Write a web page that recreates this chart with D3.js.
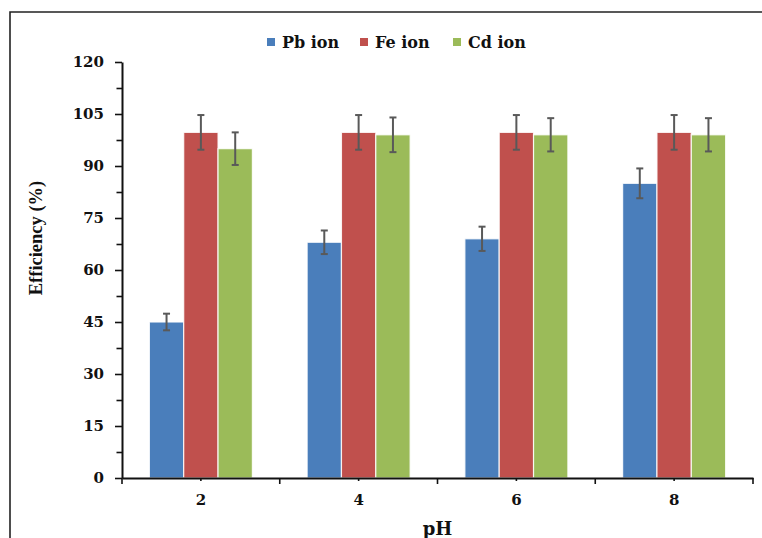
<!DOCTYPE html>
<html>
<head>
<meta charset="utf-8">
<script src="https://cdn.jsdelivr.net/npm/d3@7"></script>
<style>
    body { margin: 0; background: #ffffff; }
    svg { display: block; }
</style>
</head>
<body>
<div id="canvas"></div>
<script>
"use strict"

/* Chart data: removal efficiency by pH for three ions */
let categories = ["2", "4", "6", "8"];
let seriesNames = ["Pb ion", "Fe ion", "Cd ion"];
let pbValues = [45, 68, 69, 85];
let feValues = [99.7, 99.7, 99.7, 99.7];
let cdValues = [95, 99, 99, 99];
let pbErrors = [2.4, 3.4, 3.5, 4.3];
let feErrors = [5, 5, 5, 5];
let cdErrors = [4.7, 5, 4.8, 4.8];
let yTicks = [0, 15, 30, 45, 60, 75, 90, 105, 120];
let colors = ["#4a7ebb", "#c0504d", "#9bbb59"];

/* Global Variables */
let svgWidth = 762;
let svgHeight = 538;

let plot = {
    left: 122,
    right: 753,
    top: 62,
    bottom: 478
};

let svg;

(function() {
    svg = d3.select("#canvas")
        .append("svg")
        .attr("width", svgWidth)
        .attr("height", svgHeight);

    // cropped outer frame (only top and left edges visible)
    svg.append("path")
        .attr("d", "M10," + svgHeight + " L10,12 L" + svgWidth + ",12")
        .attr("fill", "none")
        .attr("stroke", "#222")
        .attr("stroke-width", 1.6);

    drawChart();
})();

function drawChart() {
    let allValues = [pbValues, feValues, cdValues];
    let allErrors = [pbErrors, feErrors, cdErrors];

    // one row per bar
    let rows = [];
    for (let i = 0; i < categories.length; i++) {
        for (let s = 0; s < seriesNames.length; s++) {
            rows.push({
                cat: categories[i],
                series: seriesNames[s],
                value: allValues[s][i],
                err: allErrors[s][i],
                color: colors[s]
            });
        }
    }

    // Scales
    let xScale = d3.scaleBand()
        .domain(categories)
        .range([plot.left, plot.right]);

    let groupWidth = 103;
    let bw = xScale.bandwidth();
    let xInner = d3.scaleBand()
        .domain(seriesNames)
        .range([(bw - groupWidth) / 2, (bw + groupWidth) / 2]);

    let yScale = d3.scaleLinear()
        .domain([0, 120])
        .range([plot.bottom, plot.top]);

    // Bars
    svg.selectAll("rect.bar")
        .data(rows)
        .join("rect")
        .classed("bar", true)
        .attr("x", function(d) { return xScale(d.cat) + xInner(d.series); })
        .attr("y", function(d) { return yScale(d.value); })
        .attr("width", xInner.bandwidth())
        .attr("height", function(d) { return yScale(0) - yScale(d.value); })
        .attr("fill", function(d) { return d.color; })
        .attr("stroke", "#ffffff")
        .attr("stroke-opacity", 0.85)
        .attr("stroke-width", 1.2);

    // Error bars
    let errG = svg.append("g")
        .attr("stroke", "#595959")
        .attr("stroke-width", 2);

    let errs = errG.selectAll("g")
        .data(rows)
        .join("g")
        .attr("transform", function(d) {
            return "translate(" + (xScale(d.cat) + xInner(d.series) + xInner.bandwidth() / 2) + ",0)";
        });

    errs.append("line")
        .attr("y1", function(d) { return yScale(d.value + d.err); })
        .attr("y2", function(d) { return yScale(d.value - d.err); });
    errs.append("line")
        .attr("x1", -3.5).attr("x2", 3.5)
        .attr("y1", function(d) { return yScale(d.value + d.err); })
        .attr("y2", function(d) { return yScale(d.value + d.err); });
    errs.append("line")
        .attr("x1", -3.5).attr("x2", 3.5)
        .attr("y1", function(d) { return yScale(d.value - d.err); })
        .attr("y2", function(d) { return yScale(d.value - d.err); });

    // Y axis with minor ticks between labels
    let minorTicks = [];
    for (let i = 0; i < yTicks.length - 1; i++) {
        minorTicks.push((yTicks[i] + yTicks[i + 1]) / 2);
    }
    svg.append("g")
        .attr("transform", "translate(" + plot.left + ",0)")
        .call(d3.axisLeft(yScale).tickValues(minorTicks).tickSize(5.5).tickFormat(""))
        .call(function(g) { g.select(".domain").remove(); })
        .selectAll("line").attr("stroke", "#111").attr("stroke-width", 1.6);

    let yAxis = svg.append("g")
        .attr("transform", "translate(" + plot.left + ",0)")
        .call(d3.axisLeft(yScale).tickValues(yTicks).tickSize(7).tickSizeOuter(0).tickPadding(11));
    yAxis.select(".domain").attr("stroke", "#111").attr("stroke-width", 2);
    yAxis.selectAll("line").attr("stroke", "#111").attr("stroke-width", 1.6);
    yAxis.selectAll("text")
        .style("font-family", "'DejaVu Serif', serif")
        .style("font-weight", "bold")
        .style("font-size", "15px")
        .attr("fill", "#111");

    // X axis: long ticks on category boundaries, short ticks at centres
    let xAxis = svg.append("g")
        .attr("transform", "translate(0," + plot.bottom + ")")
        .call(d3.axisBottom(xScale).tickSize(3).tickSizeOuter(0).tickPadding(13));
    xAxis.select(".domain").attr("stroke", "#111").attr("stroke-width", 2);
    xAxis.selectAll("line").attr("stroke", "#111").attr("stroke-width", 1.6);
    xAxis.selectAll("text")
        .style("font-family", "'DejaVu Serif', serif")
        .style("font-weight", "bold")
        .style("font-size", "15px")
        .attr("fill", "#111");

    let bounds = categories.map(function(c) { return xScale(c); });
    bounds.push(xScale(categories[categories.length - 1]) + bw);
    svg.append("g")
        .selectAll("line")
        .data(bounds)
        .join("line")
        .attr("x1", function(d) { return d; })
        .attr("x2", function(d) { return d; })
        .attr("y1", plot.bottom)
        .attr("y2", plot.bottom + 6)
        .attr("stroke", "#111")
        .attr("stroke-width", 1.6);

    // Axis titles
    svg.append("text")
        .attr("x", (plot.left + plot.right) / 2)
        .attr("y", 535)
        .attr("text-anchor", "middle")
        .style("font-family", "'DejaVu Serif', serif")
        .style("font-weight", "bold")
        .style("font-size", "18px")
        .attr("fill", "#111")
        .text("pH");

    svg.append("text")
        .attr("transform", "translate(42,238) rotate(-90)")
        .attr("text-anchor", "middle")
        .style("font-family", "'Liberation Serif', serif")
        .style("font-weight", "bold")
        .style("font-size", "18.5px")
        .attr("fill", "#111")
        .text("Efficiency (%)");

    drawLegend();
}

function drawLegend() {
    let legendX = [267, 360, 453];
    for (let i = 0; i < seriesNames.length; i++) {
        svg.append("rect")
            .attr("x", legendX[i])
            .attr("y", 38)
            .attr("width", 8)
            .attr("height", 8)
            .attr("fill", colors[i]);

        svg.append("text")
            .attr("x", legendX[i] + 15)
            .attr("y", 47.5)
            .style("font-family", "'DejaVu Serif', serif")
            .style("font-weight", "bold")
            .style("font-size", "16px")
            .attr("fill", "#111")
            .text(seriesNames[i]);
    }
}
</script>
</body>
</html>
